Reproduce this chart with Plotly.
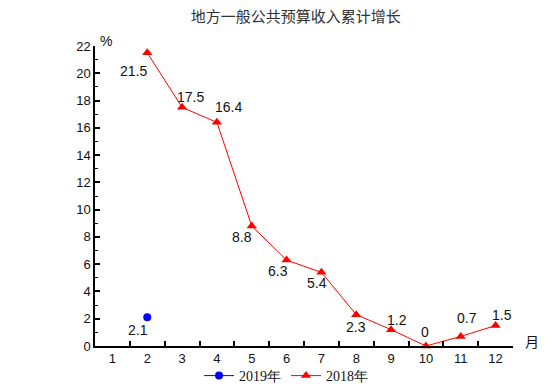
import plotly.graph_objects as go

months = [1, 2, 3, 4, 5, 6, 7, 8, 9, 10, 11, 12]
x_2018 = [2, 3, 4, 5, 6, 7, 8, 9, 10, 11, 12]
v_2018 = [21.5, 17.5, 16.4, 8.8, 6.3, 5.4, 2.3, 1.2, 0, 0.7, 1.5]
x_2019 = [2]
v_2019 = [2.1]
y_ticks = [0, 2, 4, 6, 8, 10, 12, 14, 16, 18, 20, 22]

# label offsets in pixels (style only)
off_2018 = [(-14, -18), (8, 10), (12, 15), (-10, -11), (-9, -11), (-4, -11),
            (0, -12), (6, 10), (-1, 14), (6, 18), (6, 11)]
off_2019 = [(-9, -13)]

num_font = dict(family="Liberation Sans, Arial", size=14, color="#111111")

fig = go.Figure()
fig.add_trace(go.Scatter(
    x=x_2019, y=v_2019, mode="lines+markers", name="2019年",
    line=dict(color="#0000FF", width=1),
    marker=dict(color="#0000FF", size=8, symbol="circle"),
    cliponaxis=False,
))
fig.add_trace(go.Scatter(
    x=x_2018, y=v_2018, mode="lines+markers", name="2018年",
    line=dict(color="#FF0000", width=1),
    marker=dict(color="#FF0000", size=9, symbol="triangle-up"),
    cliponaxis=False,
))
# invisible trace for half-step tick axis
fig.add_trace(go.Scatter(x=[0.5, 12.5], y=[0, 0], xaxis="x2", mode="markers",
                         marker=dict(opacity=0), showlegend=False, hoverinfo="skip"))

for xs, vs, offs in ((x_2018, v_2018, off_2018), (x_2019, v_2019, off_2019)):
    for xv, v, (dx, dy) in zip(xs, vs, offs):
        fig.add_annotation(x=xv, y=v, xref="x", yref="y", text=f"{v:g}", showarrow=False,
                           xanchor="center", yanchor="middle", xshift=dx, yshift=dy,
                           font=num_font)

fig.update_layout(
    width=554, height=392,
    margin=dict(l=95, r=41, t=46, b=46, autoexpand=False),
    paper_bgcolor="white", plot_bgcolor="white",
    title=dict(text="地方一般公共预算收入累计增长", x=0.534, xanchor="center",
               y=0.957, yanchor="middle", yref="container", automargin=False,
               font=dict(family="Noto Sans CJK SC", size=15, color="#333333")),
    xaxis=dict(range=[0.5, 12.5], tickmode="array", tickvals=months,
               ticktext=[str(m) for m in months], ticks="", showgrid=False, zeroline=False,
               showline=True, linecolor="black", linewidth=1.5, automargin=False,
               tickfont=dict(family="Liberation Sans, Arial", size=13, color="#111111")),
    xaxis2=dict(range=[0.5, 12.5], overlaying="x", side="bottom", tickmode="array",
                tickvals=[m + 0.5 for m in months], ticks="inside", ticklen=5, tickwidth=1.5,
                tickcolor="black", showticklabels=False, showgrid=False, zeroline=False,
                showline=False, anchor="y"),
    yaxis=dict(range=[0, 22], tickmode="array", tickvals=y_ticks, ticks="inside", ticklen=5,
               tickwidth=1.5, tickcolor="black", showgrid=False, zeroline=False,
               showline=True, linecolor="black", linewidth=1.5, automargin=False,
               minor=dict(ticks="inside", ticklen=3, dtick=1, tickcolor="black", tickwidth=1),
               tickfont=dict(family="Liberation Sans, Arial", size=13, color="#111111")),
    legend=dict(orientation="h", x=0.457, xanchor="center", y=-0.10, yanchor="middle",
                font=dict(family="Liberation Serif, Times New Roman", size=14, color="#111111"),
                itemwidth=30, bgcolor="rgba(0,0,0,0)"),
    showlegend=True,
)
fig.add_annotation(text="%", xref="paper", yref="paper", x=0.007, y=1.05, showarrow=False,
                   font=dict(family="Liberation Sans, Arial", size=14, color="#111111"))
fig.add_annotation(text="月", xref="paper", yref="paper", x=1.025, y=0.017, showarrow=False,
                   xanchor="left", yanchor="middle",
                   font=dict(family="Noto Sans CJK SC", size=14, color="#111111"))

fig.write_html("out.html", config={"displayModeBar": False},
               post_script="document.body.style.margin='0';document.body.style.overflow='hidden';")
